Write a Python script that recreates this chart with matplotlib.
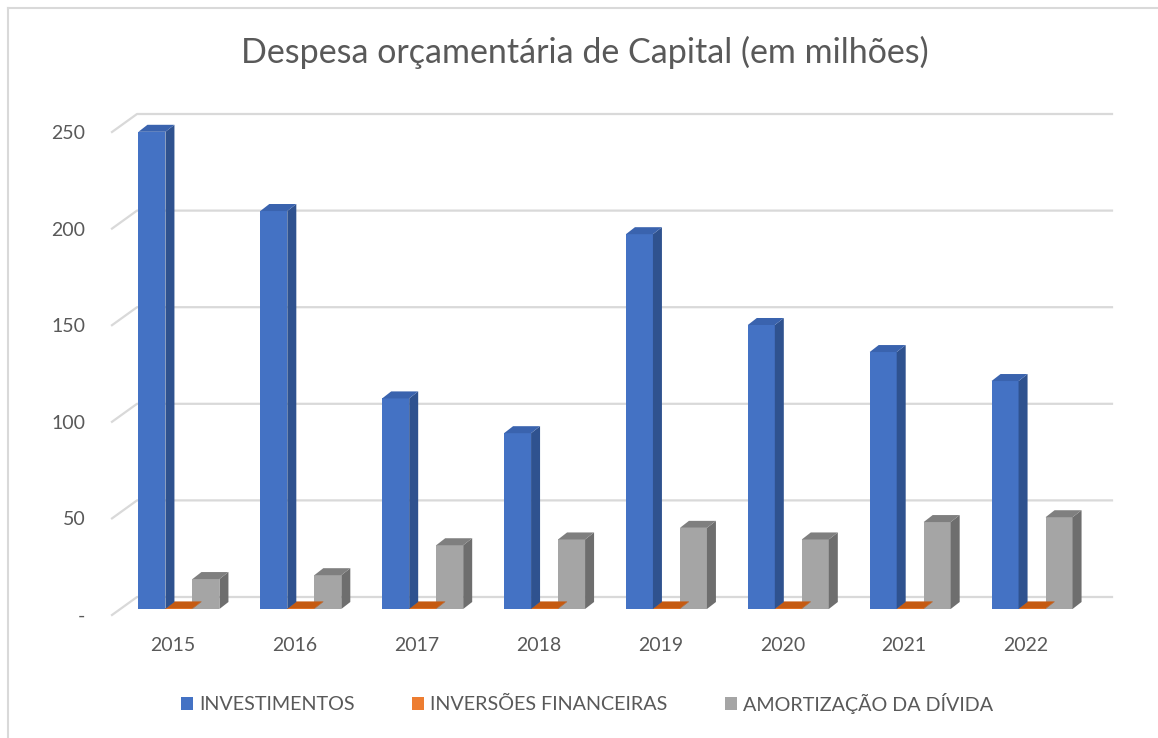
import matplotlib
matplotlib.use("Agg")
import matplotlib.pyplot as plt
from matplotlib.patches import Polygon, Rectangle, Patch
from matplotlib.lines import Line2D

plt.rcParams['font.family'] = ['Lato', 'DejaVu Sans']

# dados (em milhões)
years = ["2015", "2016", "2017", "2018", "2019", "2020", "2021", "2022"]
investimentos = [247, 206, 109, 91, 194, 147, 133, 118]
inversoes = [0.3, 0.3, 0.3, 0.3, 0.3, 0.3, 0.3, 0.3]
amortizacao = [15.5, 17.5, 33, 36, 42, 36, 45, 47.5]
series_names = ["INVESTIMENTOS", "INVERSÕES FINANCEIRAS", "AMORTIZAÇÃO DA DÍVIDA"]
y_ticks = [0, 50, 100, 150, 200, 250]
y_tick_labels = ["-", "50", "100", "150", "200", "250"]

front_cols = ["#4472C4", "#ED7D31", "#A5A5A5"]
side_cols = ["#2F528F", "#B55A1E", "#6E6E6E"]
top_cols = ["#3A63AE", "#C55A11", "#7F7F7F"]
text_col = "#595959"
grid_col = "#D9D9D9"

W, H = 1158, 738
fig = plt.figure(figsize=(W / 100, H / 100), dpi=100)
ax_l, ax_r, ax_b, ax_t = 112, 1087, 615, 132
ax = fig.add_axes([ax_l / W, 1 - ax_b / H, (ax_r - ax_l) / W, (ax_b - ax_t) / H])
ax.set_xlim(-0.5, len(years) - 0.5)
ax.set_ylim(0, 250)

# pixel -> data units
ux = len(years) / (ax_r - ax_l)
uy = 250 / (ax_b - ax_t)

# back wall gridlines with the perspective segment on the left
wall_dx, wall_dy = 25 * ux, 18 * uy
for v in y_ticks:
    ax.plot([-0.5, -0.5 + wall_dx, len(years) - 0.5 + wall_dx],
            [v, v + wall_dy, v + wall_dy],
            color=grid_col, lw=1.6, clip_on=False, zorder=0)

# pseudo 3D bars
series = [investimentos, inversoes, amortizacao]
w = 27 / (ax_r - ax_l) * len(years)
off_x, off_y = 6 * ux, 6 * uy
dep_x, dep_y = 9 * ux, 7 * uy
z = 1
for i in reversed(range(len(years))):
    for s in reversed(range(3)):
        v = series[s][i]
        x0 = i + (s - 1.5) * w + off_x
        x1 = x0 + w
        y0 = off_y
        y1 = v + off_y
        ax.add_patch(Rectangle((x0, y0), w, v, facecolor=front_cols[s],
                               edgecolor="none", clip_on=False, zorder=z))
        ax.add_patch(Polygon([(x1, y0), (x1 + dep_x, y0 + dep_y),
                              (x1 + dep_x, y1 + dep_y), (x1, y1)],
                             facecolor=side_cols[s], edgecolor="none",
                             clip_on=False, zorder=z))
        ax.add_patch(Polygon([(x0, y1), (x1, y1), (x1 + dep_x, y1 + dep_y),
                              (x0 + dep_x, y1 + dep_y)],
                             facecolor=top_cols[s], edgecolor="none",
                             clip_on=False, zorder=z))
        z += 1

for sp in ax.spines.values():
    sp.set_visible(False)
ax.set_yticks(y_ticks, y_tick_labels)
ax.set_xticks(range(len(years)), years)
ax.tick_params(axis="y", length=0, pad=19, labelsize=14, labelcolor=text_col)
ax.tick_params(axis="x", length=0, pad=16, labelsize=14, labelcolor=text_col)

fig.text(0.505, 1 - 52 / H, "Despesa orçamentária de Capital (em milhões)",
         ha="center", va="center", fontsize=24.5, color=text_col)

handles = [Patch(facecolor=c, edgecolor="none") for c in front_cols]
leg = fig.legend(handles, series_names, loc="center", ncol=3,
                 bbox_to_anchor=(0.507, 1 - 703 / H), frameon=False,
                 fontsize=14.2, handlelength=0.62, handleheight=0.62,
                 handletextpad=0.3, columnspacing=2.9, labelcolor=text_col)

# chart border (only top and left visible in the crop)
fig.add_artist(Line2D([8 / W, 8 / W], [0, 1 - 8 / H], transform=fig.transFigure,
                      color=grid_col, lw=1.5))
fig.add_artist(Line2D([8 / W, 1], [1 - 8 / H, 1 - 8 / H], transform=fig.transFigure,
                      color=grid_col, lw=1.5))

fig.savefig("out.png", dpi=100)
